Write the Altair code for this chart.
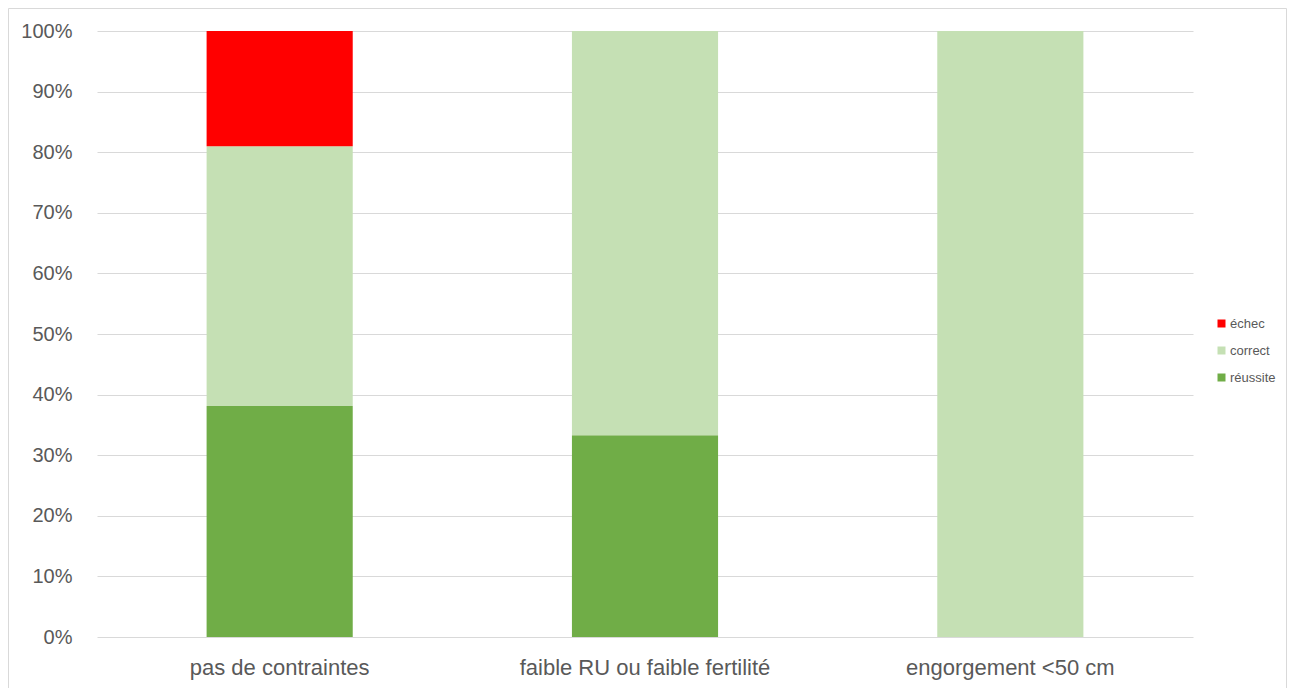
import altair as alt
import pandas as pd

# Share of outcomes per soil constraint class (percent)
categories = ["pas de contraintes", "faible RU ou faible fertilité", "engorgement <50 cm"]
reussite = [38.1, 33.3, 0.0]
correct = [42.9, 66.7, 100.0]
echec = [19.0, 0.0, 0.0]

series = ["échec", "correct", "réussite"]
colors = ["#ff0000", "#c5e0b4", "#70ad47"]
stack_rank = {"réussite": 0, "correct": 1, "échec": 2}
tick_values = [i / 10 for i in range(11)]

rows = []
for i, cat in enumerate(categories):
    for name, vals in (("réussite", reussite), ("correct", correct), ("échec", echec)):
        rows.append({"cat": cat, "serie": name, "val": vals[i] / 100.0, "rank": stack_rank[name]})
df = pd.DataFrame(rows)

W, H = 1096, 606
FONT = "Liberation Sans"
GREY = "#595959"

bars = alt.Chart(df).mark_bar(stroke=None).encode(
    x=alt.X("cat:N", sort=categories, title=None,
            scale=alt.Scale(paddingInner=0.6, paddingOuter=0.3),
            axis=alt.Axis(labelAngle=0, ticks=False, domain=False, grid=False,
                          labelFont=FONT, labelFontSize=22, labelColor=GREY,
                          labelPadding=20, labelLimit=0)),
    y=alt.Y("val:Q", stack="zero", title=None,
            scale=alt.Scale(domain=[0, 1], nice=False),
            axis=alt.Axis(format=".0%", values=tick_values, labelOverlap=False,
                          ticks=False, domain=False, gridColor="#d9d9d9", gridWidth=1,
                          labelFont=FONT, labelFontSize=20, labelColor=GREY,
                          labelPadding=25)),
    color=alt.Color("serie:N", scale=alt.Scale(domain=series, range=colors),
                    legend=alt.Legend(title=None, orient="none", legendX=1118, legendY=286,
                                      symbolType="square", symbolSize=64, symbolStrokeWidth=0,
                                      labelFont=FONT, labelFontSize=13, labelColor=GREY,
                                      rowPadding=13, labelOffset=2)),
    order=alt.Order("rank:Q", sort="ascending"),
)

# Outer frame of the chart
frame = alt.Chart(pd.DataFrame({"k": [0]})).mark_rect(
    fill=None, stroke="#d9d9d9", strokeWidth=1
).encode(
    x=alt.value(-88.5), x2=alt.value(1189.5), y=alt.value(-22.5), y2=alt.value(680)
)

chart = alt.layer(frame, bars).properties(
    width=W, height=H,
    autosize=alt.AutoSizeParams(type="none"),
    padding={"left": 97, "top": 31, "right": 100, "bottom": 51},
).configure(background="white", view=alt.ViewConfig(stroke=None))

chart.save("out.html", embed_options={"renderer": "svg", "actions": False})
